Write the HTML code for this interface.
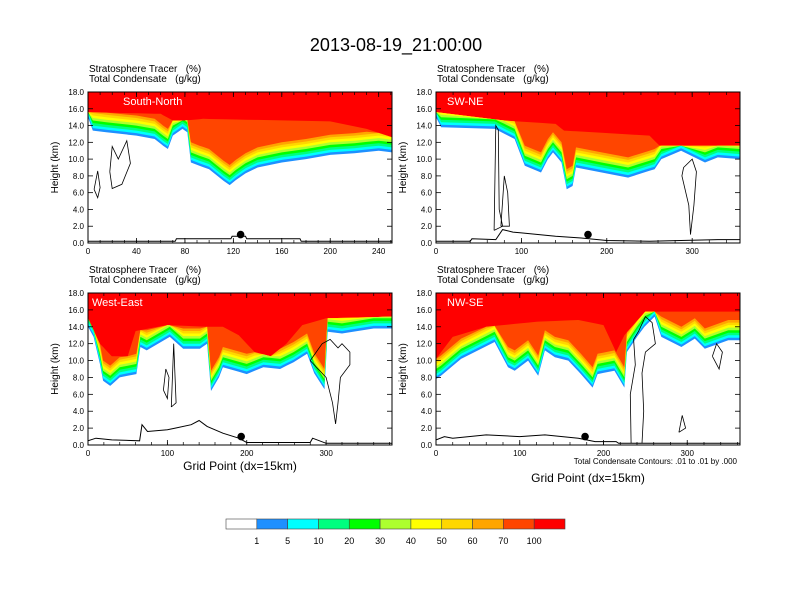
<!DOCTYPE html>
<html><head><meta charset="utf-8"><style>
html,body{margin:0;padding:0;background:#fff;}
svg{display:block;font-family:"Liberation Sans",sans-serif;}
</style></head><body>
<svg id="chart" width="792" height="612" viewBox="0 0 792 612" xmlns="http://www.w3.org/2000/svg">
<text x="396" y="51" font-size="18" text-anchor="middle">2013-08-19_21:00:00</text>
<g id="panels"></g>
<text x="737" y="464" font-size="8" text-anchor="end">Total Condensate Contours: .01 to .01 by .000</text>
<text x="240" y="470" font-size="12" text-anchor="middle">Grid Point (dx=15km)</text>
<text x="588" y="482" font-size="12" text-anchor="middle">Grid Point (dx=15km)</text>
<g id="colorbar"></g>
</svg>
<script>
// ---- data ----
const levelLabels = ["1","5","10","20","30","40","50","60","70","100"];
const levelColors = ["#ffffff","#1e90ff","#00ffff","#00ff7f","#00ff00","#adff2f","#ffff00","#ffd700","#ffa500","#ff4500","#ff0000"];
const yTicks = [0,2,4,6,8,10,12,14,16,18];

const p1Grid = [0,4,15,40,55,62,66,70,78,82,85,92,100,112,117,122,130,140,160,180,200,220,240,251];
const p1Edge = [15.0,13.4,13.2,12.8,12.4,11.6,11.2,12.8,13.6,13.2,9.6,9.2,8.8,7.4,6.9,7.5,8.3,9.0,9.6,10.0,10.5,10.7,11.0,10.8];
const p1RedGrid = [0,60,70,80,95,200,230,251];
const p1Red = [15.6,15.4,14.6,14.6,14.8,14.5,13.6,12.6];
const p1TerrGrid = [0,72,73,118,119,130,131,175,176,251];
const p1Terr = [0.2,0.2,0.5,0.5,0.8,0.8,0.5,0.5,0.2,0.2];
const p1Dot = [126,1.0];
const p1Contours = [[[5,6.4],[8,8.6],[10,6.6],[8,5.4],[5,6.4]],[[18,8.5],[20,11.5],[25,10.0],[32,12.2],[35,9.5],[28,7.0],[20,6.5],[18,8.5]]];

const p2Grid = [0,6,69,92,104,123,131,137,147,153,160,164,194,225,256,264,287,315,330,356];
const p2Edge = [15.0,13.8,13.6,12.4,9.2,8.4,10.0,10.8,9.6,6.4,6.8,9.0,8.4,7.8,8.8,10.0,11.0,9.6,10.2,10.0];
const p2RedGrid = [0,80,140,150,250,262,356];
const p2Red = [15.6,14.6,14.2,13.4,12.8,11.6,11.6];
const p2TerrGrid = [0,40,42,70,78,90,100,140,170,200,250,330,356];
const p2Terr = [0.2,0.2,0.5,0.4,1.6,1.3,1.2,0.8,0.6,0.3,0.2,0.4,0.4];
const p2Dot = [178,1.0];
const p2Contours = [[[68,1.5],[70,14.0],[73,13.5],[74,4.0],[78,2.0],[68,1.5]],[[76,2.0],[80,8.0],[84,6.0],[86,2.0],[76,2.0]],[[290,9.0],[300,10.0],[305,8.5],[302,4.5],[298,1.0],[296,4.5],[288,8.0],[290,9.0]]];

const p3Grid = [0,7,15,19,28,40,61,66,74,103,120,141,150,155,165,170,200,221,242,259,276,285,298,302,320,360,383];
const p3Edge = [14.0,12.8,9.6,7.6,7.0,8.0,8.4,11.6,11.2,12.8,11.4,11.4,12.0,6.4,8.0,9.2,8.4,9.2,9.0,9.8,10.8,8.5,6.6,13.4,13.2,13.8,13.8];
const p3RedGrid = [0,15,30,50,60,100,150,170,190,210,230,250,270,300,383];
const p3Red = [15.0,12.0,10.5,10.5,13.5,14.2,14.0,14.0,13.0,11.0,10.5,12.0,14.2,15.0,15.2];
const p3TerrGrid = [0,10,30,65,68,75,100,110,130,140,150,170,190,200,280,283,300,383];
const p3Terr = [0.5,0.8,0.6,0.5,2.4,1.6,1.8,2.0,2.4,2.9,2.2,1.4,0.8,0.3,0.3,0.8,0.2,0.2];
const p3Dot = [193,1.0];
const p3Contours = [[[95,6.5],[98,9.0],[102,8.0],[100,5.5],[95,6.5]],[[105,4.5],[108,12.0],[111,5.0],[105,4.5]],[[280,10.0],[295,12.0],[305,12.5],[315,11.5],[320,12.0],[330,11.0],[330,9.5],[318,8.0],[315,5.0],[312,2.5],[308,5.0],[300,8.0],[290,9.0],[280,10.0]]];

const p4Grid = [0,6,30,70,86,94,110,122,130,142,158,173,187,193,213,225,228,240,249,261,269,293,309,321,349,363];
const p4Edge = [7.8,8.2,10.2,12.2,9.2,8.8,10.0,8.2,11.2,10.4,10.0,8.4,6.8,8.4,8.8,6.8,11.0,12.8,14.0,15.2,12.8,11.6,12.6,11.4,12.4,12.4];
const p4RedGrid = [0,20,60,120,170,200,215,225,250,363];
const p4Red = [10.2,12.8,14.0,14.6,14.8,14.2,11.0,13.0,15.8,15.8];
const p4TerrGrid = [0,10,20,60,100,130,170,190,215,218,363];
const p4Terr = [0.6,1.0,0.8,1.2,1.0,1.2,0.8,0.4,0.4,0.2,0.2];
const p4Dot = [178,1.0];
const p4Contours = [[[233,0.2],[232,6.0],[238,9.5],[236,12.5],[242,13.5],[250,15.2],[258,14.5],[262,12.0],[250,11.0],[246,8.5],[248,4.0],[246,0.2]],[[330,10.5],[335,12.0],[342,11.0],[338,9.0],[330,10.5]],[[290,1.5],[294,3.5],[298,2.0],[290,1.5]]];

const panels = [
 {name:"south-north",label:"South-North",x0:88,x1:392,y0:92,y1:243,xmax:251,xt:[0,40,80,120,160,200,240],minor:10,grid:p1Grid,edge:p1Edge,rg:p1RedGrid,red:p1Red,tg:p1TerrGrid,terr:p1Terr,dot:p1Dot,cont:p1Contours},
 {name:"sw-ne",label:"SW-NE",x0:436,x1:740,y0:92,y1:243,xmax:356,xt:[0,100,200,300],minor:20,grid:p2Grid,edge:p2Edge,rg:p2RedGrid,red:p2Red,tg:p2TerrGrid,terr:p2Terr,dot:p2Dot,cont:p2Contours},
 {name:"west-east",label:"West-East",x0:88,x1:392,y0:293,y1:445,xmax:383,xt:[0,100,200,300],minor:20,grid:p3Grid,edge:p3Edge,rg:p3RedGrid,red:p3Red,tg:p3TerrGrid,terr:p3Terr,dot:p3Dot,cont:p3Contours},
 {name:"nw-se",label:"NW-SE",x0:436,x1:740,y0:293,y1:445,xmax:363,xt:[0,100,200,300],minor:20,grid:p4Grid,edge:p4Edge,rg:p4RedGrid,red:p4Red,tg:p4TerrGrid,terr:p4Terr,dot:p4Dot,cont:p4Contours}
];
const NS="http://www.w3.org/2000/svg";
function mk(t,a,parent){const e=document.createElementNS(NS,t);for(const k in a)e.setAttribute(k,a[k]);if(parent)parent.appendChild(e);return e;}
function interp(gx,gv,x){if(x<=gx[0])return gv[0];for(let i=1;i<gx.length;i++){if(x<=gx[i]){const f=(x-gx[i-1])/(gx[i]-gx[i-1]);return gv[i-1]+f*(gv[i]-gv[i-1]);}}return gv[gv.length-1];}
const root=document.getElementById("panels");
const BAND=0.3;
panels.forEach(p=>{
 const g=mk("g",{},root);
 
 
 const X=v=>p.x0+v/p.xmax*(p.x1-p.x0);
 const Y=v=>p.y1-v/18*(p.y1-p.y0);
 const cid="clip-"+p.name;
 const cp=mk("clipPath",{id:cid},g);mk("rect",{x:p.x0,y:p.y0,width:p.x1-p.x0,height:p.y1-p.y0},cp);
 const fg=mk("g",{"clip-path":"url(#"+cid+")"},g);
 const red=mk("rect",{x:p.x0,y:p.y0,width:p.x1-p.x0,height:p.y1-p.y0,fill:levelColors[10]},fg);
 
 
 const xs=[...new Set([...p.grid,...p.rg,0,p.xmax])].sort((a,b)=>a-b);
 for(let k=9;k>=0;k--){
   let pts=[];
   xs.forEach(x=>{const e=interp(p.grid,p.edge,x),r=interp(p.rg,p.red,x);
     let top = k===9? r : Math.min(r, e+k*BAND);
     if(k===0) top=e;
     pts.push(X(x).toFixed(1)+","+Y(top).toFixed(1));});
   pts.push(X(p.xmax)+","+p.y1, X(0)+","+p.y1);
   const poly=mk("polygon",{points:pts.join(" "),fill:levelColors[k]},fg);
   
   
 }
 p.cont.forEach((c,i)=>{
   const pl=mk("polyline",{points:c.map(q=>X(q[0]).toFixed(1)+","+Y(q[1]).toFixed(1)).join(" "),fill:"none",stroke:"#000","stroke-width":0.8},fg);
   
   
 });
 const tl=mk("polyline",{points:p.tg.map((x,i)=>X(x).toFixed(1)+","+Y(p.terr[i]).toFixed(1)).join(" "),fill:"none",stroke:"#000","stroke-width":1},fg);
 
 
 const dot=mk("circle",{cx:X(p.dot[0]),cy:Y(p.dot[1]),r:3.8,fill:"#000"},g);
 
 
 const fr=mk("rect",{x:p.x0,y:p.y0,width:p.x1-p.x0,height:p.y1-p.y0,fill:"none",stroke:"#000","stroke-width":1},g);
 
 
 yTicks.forEach(v=>{
   const y=Y(v);
   mk("line",{x1:p.x0,x2:p.x0+5,y1:y,y2:y,stroke:"#000","stroke-width":0.8},g);
   mk("line",{x1:p.x1,x2:p.x1-5,y1:y,y2:y,stroke:"#000","stroke-width":0.8},g);
   const t=mk("text",{x:p.x0-4,y:y+3,"font-size":8,"text-anchor":"end"},g);
   t.textContent=v.toFixed(1);
   
   
 });
 for(let v=0;v<=p.xmax;v+=p.minor){
   const x=X(v);
   mk("line",{x1:x,x2:x,y1:p.y1,y2:p.y1-3,stroke:"#000","stroke-width":0.7},g);
   mk("line",{x1:x,x2:x,y1:p.y0,y2:p.y0+3,stroke:"#000","stroke-width":0.7},g);
 }
 p.xt.forEach(v=>{
   const x=X(v);
   mk("line",{x1:x,x2:x,y1:p.y1,y2:p.y1-5,stroke:"#000","stroke-width":0.8},g);
   mk("line",{x1:x,x2:x,y1:p.y0,y2:p.y0+5,stroke:"#000","stroke-width":0.8},g);
   const t=mk("text",{x:x,y:p.y1+11,"font-size":8,"text-anchor":"middle"},g);
   t.textContent=v;
   
   
 });
 const yt=mk("text",{x:0,y:0,"font-size":10,"text-anchor":"middle",transform:"translate("+(p.x0-30)+","+((p.y0+p.y1)/2)+") rotate(-90)"},g);
 yt.textContent="Height (km)";
 
 
 const h1=mk("text",{x:p.x0+1,y:p.y0-20,"font-size":10},g);
 h1.textContent="Stratosphere Tracer   (%)";
 
 
 h1.style.whiteSpace="pre";
 const h2=mk("text",{x:p.x0+1,y:p.y0-10,"font-size":10},g);
 h2.textContent="Total Condensate   (g/kg)";
 
 
 h2.style.whiteSpace="pre";
 const lb=mk("text",{x:p.x0+(p.name==="south-north"?35:(p.name==="west-east"?4:11)),y:p.y0+13,"font-size":11,fill:"#fff"},g);
 lb.textContent=p.label;
 
 
});
const cb=document.getElementById("colorbar");
const cbx0=226,cbx1=565,cby=519,cbh=10,bw=(cbx1-cbx0)/levelColors.length;
levelColors.forEach((c,i)=>{
 const r=mk("rect",{x:cbx0+i*bw,y:cby,width:bw,height:cbh,fill:c,stroke:"#444","stroke-width":0.6},cb);
 
 
});
levelLabels.forEach((l,i)=>{
 const t=mk("text",{x:cbx0+(i+1)*bw,y:544,"font-size":9,"text-anchor":"middle"},cb);
 t.textContent=l;
 
 
});
</script>
</body></html>
